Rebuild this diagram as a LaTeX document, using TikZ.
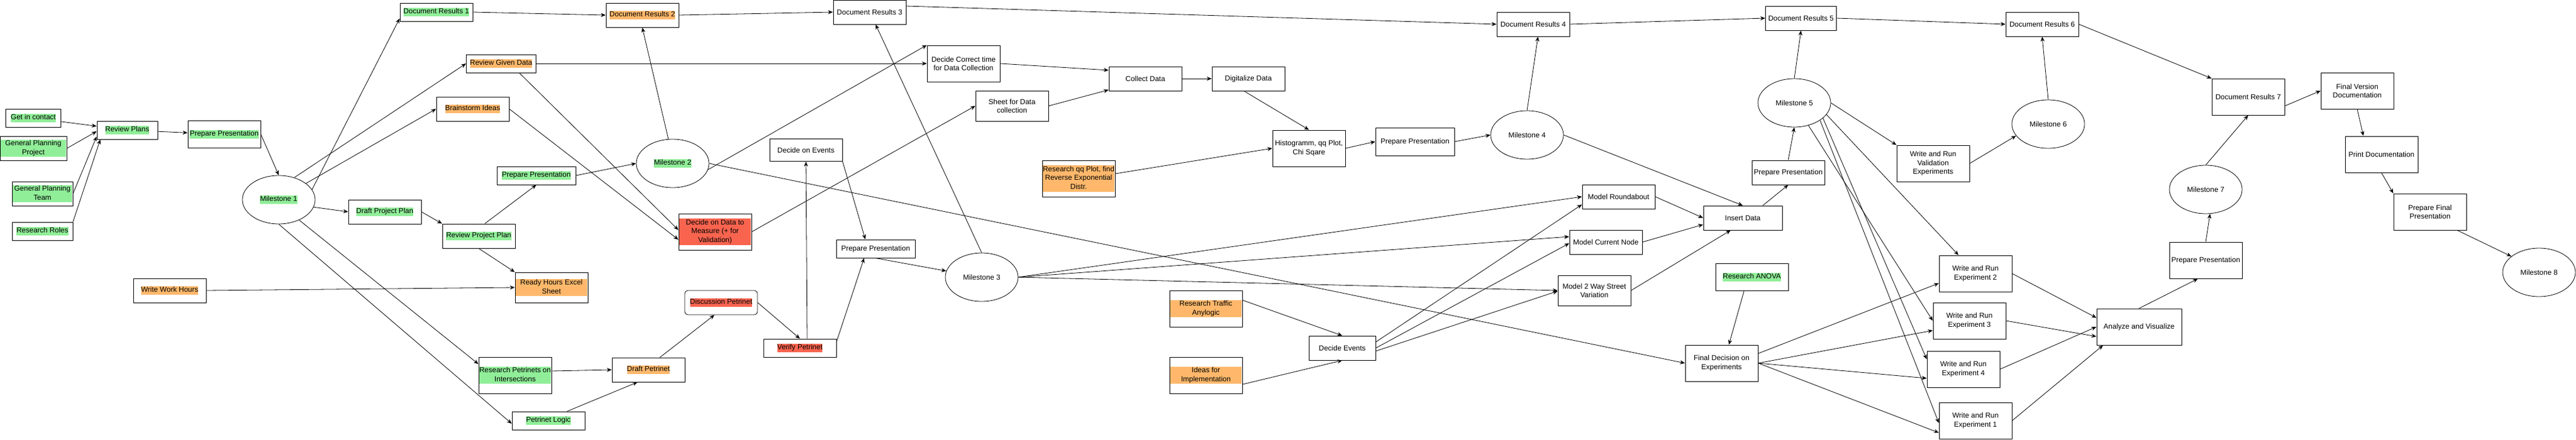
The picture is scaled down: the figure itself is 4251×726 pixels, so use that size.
\documentclass[tikz,border=0pt]{standalone}
\usepackage{fontspec}
\setmainfont{Liberation Sans}
\usetikzlibrary{shapes.geometric,arrows.meta}
\definecolor{gr}{HTML}{90EE98}
\definecolor{orc}{HTML}{FFB86B}
\definecolor{rdc}{HTML}{F9644F}
\newcommand\dfont{\fontsize{12}{14.4}\selectfont}
\newcommand\hl[2]{{\setlength{\fboxsep}{0pt}\colorbox{#1}{\strut #2}}}
\newcommand\hlm[3]{{\setlength{\fboxsep}{0pt}\colorbox{#1}{\parbox{#2}{\centering #3}}}}
\tikzset{
  box/.style={draw=black, line width=1pt, rectangle, inner sep=0pt, font=\dfont, align=center, text=black},
  ms/.style={draw=black, line width=0.8pt, ellipse, inner sep=0pt, font=\dfont, minimum width=120pt, minimum height=80pt},
  arr/.style={-{Stealth[length=8pt,width=6.5pt,inset=2.5pt]}, line width=0.8pt, draw=black},
}
\begin{document}
\begin{tikzpicture}[x=1pt,y=-1pt]
\useasboundingbox[fill=white] (0,0) rectangle (4251,726);
% ---------- left part ----------
\node[box, minimum width=91pt, minimum height=30pt] (gic) at (55,195) {\hl{gr}{Get in contact}};
\node[box, minimum width=110pt, minimum height=40pt] (gpp) at (55,245) {\hlm{gr}{108pt}{\strut General Planning\strut\\ \strut Project\strut}};
\node[box, minimum width=100pt, minimum height=40pt] (gpt) at (70,320) {\hlm{gr}{98pt}{\strut General Planning\strut\\ \strut Team\strut}};
\node[box, minimum width=100pt, minimum height=30pt] (rr) at (70,382) {\hl{gr}{Research Roles}};
\node[box, minimum width=100pt, minimum height=30pt] (rp) at (210,215) {\hl{gr}{Review Plans}};
\node[box, minimum width=120pt, minimum height=45pt] (pp1) at (370,222) {\hl{gr}{Prepare Presentation}};
\node[ms] (m1) at (460,330) {\hl{gr}{Milestone 1}};
\node[box, minimum width=120pt, minimum height=40pt] (dpp) at (635,350) {\hl{gr}{Draft Project Plan}};
\node[box, minimum width=120pt, minimum height=40pt] (rpp) at (790,390) {\hl{gr}{Review Project Plan}};
\node[box, minimum width=120pt, minimum height=40pt] (wwh) at (280,480) {\hl{orc}{Write Work Hours}};
\node[box, minimum width=120pt, minimum height=50pt] (rhes) at (910,475) {\hlm{orc}{118pt}{\strut Ready Hours Excel\strut\\ \strut Sheet\strut}};
\node[box, minimum width=120pt, minimum height=30pt] (dr1) at (720,20) {\hl{gr}{Document Results 1}};
\node[box, minimum width=120pt, minimum height=40pt] (dr2) at (1060,25) {\hl{orc}{Document Results 2}};
\node[box, minimum width=115pt, minimum height=30pt] (rgd) at (827,105) {\hl{orc}{Review Given Data}};
\node[box, minimum width=120pt, minimum height=40pt] (bi) at (780,180) {\hl{orc}{Brainstorm Ideas}};
\node[box, minimum width=130pt, minimum height=30pt] (pp2) at (885,290) {\hl{gr}{Prepare Presentation}};
\node[ms] (m2) at (1110,270) {\hl{gr}{Milestone 2}};
\node[box, minimum width=120pt, minimum height=60pt] (ddm) at (1180,383) {\hlm{rdc}{118pt}{\strut Decide on Data to\strut\\ \strut Measure (+ for\strut\\ \strut Validation)\strut}};
\node[box, minimum width=120pt, minimum height=60pt] (rpi) at (850,620) {\hlm{gr}{118pt}{\strut Research Petrinets on\strut\\ \strut Intersections\strut}};
\node[box, minimum width=120pt, minimum height=40pt] (dpn) at (1070,611) {\hl{orc}{Draft Petrinet}};
\node[box, minimum width=120pt, minimum height=30pt] (pl) at (905,695) {\hl{gr}{Petrinet Logic}};
\node[box, rounded corners=5pt, line width=0.8pt, minimum width=120pt, minimum height=40pt] (dsp) at (1190,500) {\hl{rdc}{Discussion Petrinet}};
% ---------- middle ----------
\node[box, minimum width=120pt, minimum height=40pt] (dr3) at (1435,20) {Document Results 3};
\node[box, minimum width=120pt, minimum height=60pt] (dct) at (1590,105) {Decide Correct time\\for Data Collection};
\node[box, minimum width=120pt, minimum height=50pt] (sdc) at (1670,175) {Sheet for Data\\collection};
\node[box, minimum width=120pt, minimum height=37pt] (doe) at (1330,248) {Decide on Events};
\node[box, minimum width=120pt, minimum height=60pt] (rqq) at (1780,295) {\hlm{orc}{118pt}{\strut Research qq Plot, find\strut\\ \strut Reverse Exponential\strut\\ \strut Distr.\strut}};
\node[box, minimum width=130pt, minimum height=30pt] (pp3) at (1445,411) {Prepare Presentation};
\node[ms] (m3) at (1620,458) {Milestone 3};
\node[box, minimum width=120pt, minimum height=30pt] (vp) at (1320,575) {\hl{rdc}{Verify Petrinet}};
\node[box, minimum width=120pt, minimum height=40pt] (cd) at (1890,130) {Collect Data};
\node[box, minimum width=120pt, minimum height=40pt] (dd) at (2060,130) {Digitalize Data};
\node[box, minimum width=120pt, minimum height=60pt] (hist) at (2160,245) {Histogramm, qq Plot,\\Chi Sqare};
\node[box, minimum width=130pt, minimum height=46pt] (pp4) at (2335,234) {Prepare Presentation};
\node[box, minimum width=120pt, minimum height=60pt] (rta) at (1990,510) {\hlm{orc}{118pt}{\strut Research Traffic\strut\\ \strut Anylogic\strut}};
\node[box, minimum width=120pt, minimum height=60pt] (ifi) at (1990,620) {\hlm{orc}{118pt}{\strut Ideas for\strut\\ \strut Implementation\strut}};
\node[box, minimum width=110pt, minimum height=40pt] (de) at (2215,575) {Decide Events};
% ---------- right part ----------
\node[box, minimum width=120pt, minimum height=40pt] (dr4) at (2530,40) {Document Results 4};
\node[box, minimum width=117pt, minimum height=40pt] (dr5) at (2972,30) {Document Results 5};
\node[ms] (m4) at (2520,223) {Milestone 4};
\node[ms] (m5) at (2961,170) {Milestone 5};
\node[box, minimum width=120pt, minimum height=40pt] (pp5) at (2951,285) {Prepare Presentation};
\node[box, minimum width=120pt, minimum height=40pt] (mra) at (2671,325) {Model Roundabout};
\node[box, minimum width=130pt, minimum height=40pt] (ins) at (2876,360) {Insert Data};
\node[box, minimum width=120pt, minimum height=40pt] (mcn) at (2650,400) {Model Current Node};
\node[box, minimum width=120pt, minimum height=50pt] (m2w) at (2631,480) {Model 2 Way Street\\Variation};
\node[box, minimum width=120pt, minimum height=45pt] (anova) at (2891,458) {\hl{gr}{Research ANOVA}};
\node[box, minimum width=120pt, minimum height=60pt] (fde) at (2841,600) {Final Decision on\\Experiments};
\node[box, minimum width=120pt, minimum height=40pt] (dr6) at (3370,40) {Document Results 6};
\node[ms] (m6) at (3380,205) {Milestone 6};
\node[box, minimum width=120pt, minimum height=60pt] (wrv) at (3190,270) {Write and Run\\Validation\\Experiments};
\node[box, minimum width=120pt, minimum height=60pt] (e2) at (3260,452) {Write and Run\\Experiment 2};
\node[box, minimum width=120pt, minimum height=60pt] (e3) at (3250,530) {Write and Run\\Experiment 3};
\node[box, minimum width=120pt, minimum height=60pt] (e4) at (3240,610) {Write and Run\\Experiment 4};
\node[box, minimum width=120pt, minimum height=60pt] (e1) at (3260,695) {Write and Run\\Experiment 1};
\node[box, minimum width=140pt, minimum height=60pt] (av) at (3530,540) {Analyze and Visualize};
\node[box, minimum width=120pt, minimum height=60pt] (pp6) at (3640,430) {Prepare Presentation};
\node[ms] (m7) at (3640,313) {Milestone 7};
\node[box, minimum width=120pt, minimum height=60pt] (dr7) at (3710,160) {Document Results 7};
\node[box, minimum width=120pt, minimum height=60pt] (fvd) at (3890,150) {Final Version\\Documentation};
\node[box, minimum width=120pt, minimum height=60pt] (pd) at (3930,255) {Print Documentation};
\node[box, minimum width=120pt, minimum height=60pt] (pfp) at (4010,350) {Prepare Final\\Presentation};
\node[ms] (m8) at (4190,450) {Milestone 8};
% ---------- connectors ----------
\draw[arr] (gic) -- (rp);
\draw[arr] (gpp.east) -- ([yshift=-2pt]rp.west);
\draw[arr] (gpt.east) -- ([yshift=5pt]rp.south west);
\draw[arr] (rr.north east) -- ([xshift=6pt]rp.south west);
\draw[arr] (rp) -- (pp1);
\draw[arr] (pp1.east) -- (m1.north);
\draw[arr] (m1.17) -- ([yshift=5pt]dr1.south west);
\draw[arr] (m1.55) -- (rgd.west);
\draw[arr] (m1.31) -- (bi.west);
\draw[arr] (m1.-12) -- (dpp.west);
\draw[arr] (m1.-45) -- ([yshift=-12pt]rpi.north west);
\draw[arr] (m1.south) -- ([yshift=-5pt]pl.west);
\draw[arr] (dpp.east) -- (rpp.north west);
\draw[arr] ([xshift=10pt]rpp.north) -- (pp2.south);
\draw[arr] (rpp.south) -- (rhes.north west);
\draw[arr] (wwh.east) -- (rhes.west);
\draw[arr] (pp2.east) -- (m2.west);
\draw[arr] (m2.100) -- (dr2.south);
\draw[arr] (dr1.east) -- (dr2.west);
\draw[arr] (dr2.east) -- (dr3.west);
\draw[arr] (rgd.east) -- (dct.west);
\draw[arr] ([xshift=30pt]rgd.south) -- ([yshift=3pt]ddm.west);
\draw[arr] (bi.east) -- ([yshift=-13pt]ddm.west);
\draw[arr] (m2.-10) -- (dct.north west);
\draw[arr] (m2.east) -- (fde.west);
\draw[arr] (ddm.east) -- (sdc.west);
\draw[arr] (sdc.east) -- ([yshift=2pt]cd.south west);
\draw[arr] (dct.east) -- ([yshift=14pt]cd.west);
\draw[arr] (cd) -- (dd);
\draw[arr] ([xshift=-7pt]dd.south) -- (hist.north);
\draw[arr] ([yshift=8pt]rqq.east) -- (hist.west);
\draw[arr] (hist.east) -- (pp4.west);
\draw[arr] (pp4.east) -- (m4.west);
\draw[arr] (m4.north) -- ([xshift=8pt]dr4.south);
\draw[arr] ([yshift=10pt]dr3.east) -- (dr4.west);
\draw[arr] (dr4.east) -- (dr5.west);
\draw[arr] (dr5.east) -- (dr6.west);
\draw[arr] (dr6.east) -- (dr7.north west);
\draw[arr] (m6.north) -- (dr6.south);
\draw[arr] (wrv.east) -- (m6.200);
\draw[arr] (m3.north) -- ([xshift=10pt]dr3.south);
\draw[arr] (doe.south east) -- ([xshift=-17pt]pp3.north);
\draw[arr] ([xshift=12pt]vp.north) -- (doe.south);
\draw[arr] ([yshift=-5pt]vp.north east) -- ([xshift=-19pt]pp3.south);
\draw[arr] (dsp.east) -- (vp.north);
\draw[arr] ([xshift=19pt]dpn.north) -- ([xshift=-11pt]dsp.south);
\draw[arr] ([yshift=7pt]rpi.east) -- (dpn.west);
\draw[arr] ([xshift=31pt]pl.north) -- ([xshift=-18pt]dpn.south);
\draw[arr] (pp3.south) -- (m3.170);
\draw[arr] (m3.east) -- (mra.west);
\draw[arr] (m3.east) -- ([yshift=9pt]mcn.west);
\draw[arr] (m3.east) -- (m2w.west);
\draw[arr] ([yshift=10pt]de.east) -- ([yshift=-13pt]mra.west);
\draw[arr] (de.east) -- ([yshift=-2pt]mcn.west);
\draw[arr] ([yshift=-5pt]de.east) -- ([yshift=-1pt]m2w.west);
\draw[arr] ([yshift=14pt]rta.east) -- (de.north);
\draw[arr] ([yshift=-15pt]ifi.east) -- (de.south);
\draw[arr] (m4.east) -- (ins.north);
\draw[arr] (mra.east) -- (ins.west);
\draw[arr] (mcn.east) -- ([yshift=-11pt]ins.west);
\draw[arr] (m2w.east) -- ([xshift=-20pt]ins.south);
\draw[arr] ([xshift=33pt]ins.north) -- (pp5.south);
\draw[arr] (pp5.north) -- (m5.south);
\draw[arr] (m5.north) -- (dr5.south);
\draw[arr] (m5.east) -- (wrv.north west);
\draw[arr] (m5.-20) -- ([xshift=-28pt]e2.north);
\draw[arr] (m5.-58) -- (e3.west);
\draw[arr] (m5.-28) -- ([yshift=-14pt]e4.north west);
\draw[arr] (m5.-34) -- ([yshift=-4pt]e1.west);
\draw[arr] ([yshift=16pt]fde.east) -- ([yshift=-16pt]e2.west);
\draw[arr] (fde.east) -- ([yshift=-16pt]e3.west);
\draw[arr] (fde.east) -- ([yshift=-15pt]e4.west);
\draw[arr] (fde.east) -- ([yshift=-20pt]e1.west);
\draw[arr] ([xshift=-13pt]anova.south) -- ([xshift=12pt]fde.north);
\draw[arr] (e2.east) -- ([yshift=15pt]av.west);
\draw[arr] (e3.east) -- ([yshift=-16pt]av.west);
\draw[arr] (e4.east) -- (av.west);
\draw[arr] (e1.east) -- ([xshift=11pt]av.south west);
\draw[arr] (av.north) -- ([xshift=-13pt]pp6.south);
\draw[arr] (pp6.north) -- (m7.-80);
\draw[arr] (m7.north) -- (dr7.south);
\draw[arr] ([yshift=-15pt]dr7.east) -- (fvd.west);
\draw[arr] (fvd.south) -- ([xshift=-30pt]pd.north);
\draw[arr] (pd.south) -- (pfp.north west);
\draw[arr] ([xshift=45pt]pfp.south) -- (m8.150);
\end{tikzpicture}
\end{document}
